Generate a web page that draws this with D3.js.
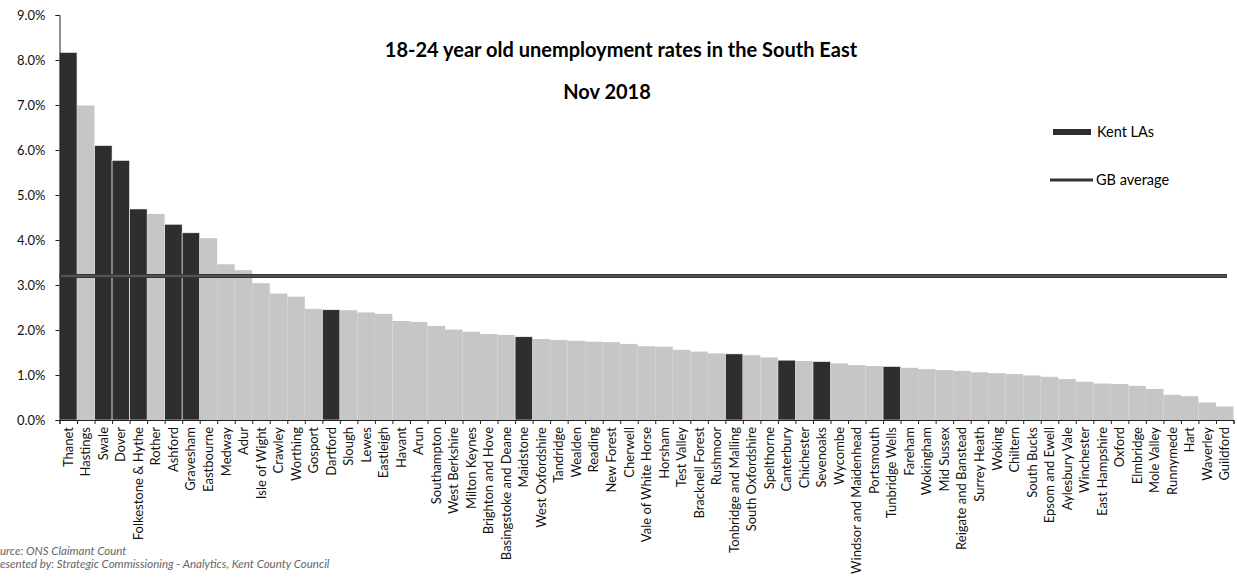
<!DOCTYPE html>
<html>
<head>
<meta charset="utf-8">
<script src="https://cdn.jsdelivr.net/npm/d3@7"></script>
<style>
  body { margin: 0; background: #fff; }
  svg { display: block; font-family: Lato, "Open Sans", sans-serif; }
  .axis text { font-size: 13px; fill: #111; font-family: Lato, "Open Sans", sans-serif; }
  .axis path, .axis line { stroke: #222; }
</style>
</head>
<body>
<svg id="chart" width="1237" height="580"></svg>
<script>
// local authorities, sorted by rate
var areas = ["Thanet", "Hastings", "Swale", "Dover", "Folkestone & Hythe", "Rother", "Ashford",
  "Gravesham", "Eastbourne", "Medway", "Adur", "Isle of Wight", "Crawley", "Worthing", "Gosport",
  "Dartford", "Slough", "Lewes", "Eastleigh", "Havant", "Arun", "Southampton", "West Berkshire",
  "Milton Keynes", "Brighton and Hove", "Basingstoke and Deane", "Maidstone", "West Oxfordshire",
  "Tandridge", "Wealden", "Reading", "New Forest", "Cherwell", "Vale of White Horse", "Horsham",
  "Test Valley", "Bracknell Forest", "Rushmoor", "Tonbridge and Malling", "South Oxfordshire",
  "Spelthorne", "Canterbury", "Chichester", "Sevenoaks", "Wycombe", "Windsor and Maidenhead",
  "Portsmouth", "Tunbridge Wells", "Fareham", "Wokingham", "Mid Sussex", "Reigate and Banstead",
  "Surrey Heath", "Woking", "Chiltern", "South Bucks", "Epsom and Ewell", "Aylesbury Vale",
  "Winchester", "East Hampshire", "Oxford", "Elmbridge", "Mole Valley", "Runnymede", "Hart",
  "Waverley", "Guildford"];

// 18-24 claimant rate, %
var rates = [8.17, 6.99, 6.10, 5.77, 4.69, 4.58, 4.35, 4.16, 4.04, 3.46, 3.33, 3.04, 2.81, 2.74,
  2.47, 2.45, 2.44, 2.39, 2.36, 2.20, 2.18, 2.09, 2.01, 1.96, 1.91, 1.89, 1.85, 1.80, 1.78, 1.76,
  1.74, 1.73, 1.69, 1.64, 1.63, 1.56, 1.52, 1.48, 1.47, 1.44, 1.39, 1.33, 1.31, 1.30, 1.26, 1.22,
  1.20, 1.19, 1.16, 1.13, 1.11, 1.09, 1.06, 1.04, 1.02, 0.99, 0.96, 0.91, 0.85, 0.81, 0.80, 0.76,
  0.69, 0.56, 0.53, 0.39, 0.30];

var kentLAs = ["Thanet", "Swale", "Dover", "Folkestone & Hythe", "Ashford", "Gravesham", "Dartford",
  "Maidstone", "Tonbridge and Malling", "Canterbury", "Sevenoaks", "Tunbridge Wells"];

var gbAverage = 3.2;
var yTicks = [0, 1, 2, 3, 4, 5, 6, 7, 8, 9];

var dataset = areas.map(function(a, i) {
  return { nome: a, valor: rates[i], kent: kentLAs.indexOf(a) >= 0 };
});

var svg = d3.select("#chart");
var mLeft = 59.5, mRight = 1233.5, mTop = 15, mBottom = 420;

var xScale = d3.scaleBand().domain(areas).range([mLeft, mRight]).padding(0);
var xIdx = d3.scaleLinear().domain([0, areas.length]).range([mLeft, mRight]);
var yScale = d3.scaleLinear().domain([0, 9]).range([mBottom, mTop]);

// barras
svg.append("g").selectAll("rect")
  .data(dataset)
  .enter()
  .append("rect")
  .attr("x", function(d) { return xScale(d.nome); })
  .attr("y", function(d) { return yScale(d.valor); })
  .attr("width", xScale.bandwidth())
  .attr("height", function(d) { return mBottom - yScale(d.valor); })
  .attr("fill", function(d) { return d.kent ? "#2e2e2e" : "#c6c6c6"; })
  .attr("stroke", function(d) { return d.kent ? "#fff" : "none"; })
  .attr("stroke-width", 0.6);

// linha da media GB
svg.append("line")
  .attr("x1", mLeft).attr("x2", 1227)
  .attr("y1", yScale(gbAverage)).attr("y2", yScale(gbAverage))
  .attr("stroke", "#333").attr("stroke-width", 4);
svg.append("line")
  .attr("x1", mLeft).attr("x2", 1227)
  .attr("y1", yScale(gbAverage)).attr("y2", yScale(gbAverage))
  .attr("stroke", "#777").attr("stroke-width", 1);

// eixo y
var yAxis = svg.append("g").attr("class", "axis")
  .attr("transform", "translate(" + mLeft + ",0)")
  .call(d3.axisLeft(yScale).tickValues(yTicks).tickSize(4).tickPadding(10)
    .tickFormat(function(d) { return d.toFixed(1) + "%"; }));
yAxis.attr("font-family", null).attr("font-size", null);

// eixo x: marcas nas fronteiras
svg.append("g").attr("class", "axis")
  .attr("transform", "translate(0," + mBottom + ")")
  .call(d3.axisBottom(xIdx).tickValues(d3.range(areas.length + 1)).tickSize(4).tickFormat(""));

// eixo x: nomes
var xAxis = svg.append("g").attr("class", "axis")
  .attr("transform", "translate(0," + mBottom + ")")
  .call(d3.axisBottom(xScale).tickSize(0));
xAxis.attr("font-family", null).attr("font-size", null);
xAxis.select(".domain").remove();
xAxis.selectAll("text")
  .attr("transform", "rotate(-90)")
  .attr("x", -7).attr("y", 0).attr("dy", "0.35em")
  .style("text-anchor", "end");

// titulos
svg.append("text").attr("x", 621).attr("y", 57)
  .attr("text-anchor", "middle").attr("font-weight", "bold").attr("font-size", 20)
  .text("18-24 year old unemployment rates in the South East");
svg.append("text").attr("x", 607).attr("y", 99)
  .attr("text-anchor", "middle").attr("font-weight", "bold").attr("font-size", 20)
  .text("Nov 2018");

// legenda
svg.append("rect").attr("x", 1053).attr("y", 129).attr("width", 38).attr("height", 6)
  .attr("fill", "#2e2e2e");
svg.append("text").attr("x", 1097).attr("y", 137).attr("font-size", 14.5).text("Kent LAs");
svg.append("line").attr("x1", 1050).attr("x2", 1093).attr("y1", 180).attr("y2", 180)
  .attr("stroke", "#333").attr("stroke-width", 3);
svg.append("text").attr("x", 1096).attr("y", 185).attr("font-size", 14.5).text("GB average");

// rodape (cortado na margem esquerda, como no original)
svg.append("text").attr("x", 0).attr("y", 555).attr("font-size", 11.5)
  .attr("font-style", "italic").attr("fill", "#666").text("urce: ONS Claimant Count");
svg.append("text").attr("x", 0).attr("y", 568).attr("font-size", 11.5)
  .attr("font-style", "italic").attr("fill", "#666")
  .text("esented by: Strategic Commissioning - Analytics, Kent County Council");
</script>
</body>
</html>
